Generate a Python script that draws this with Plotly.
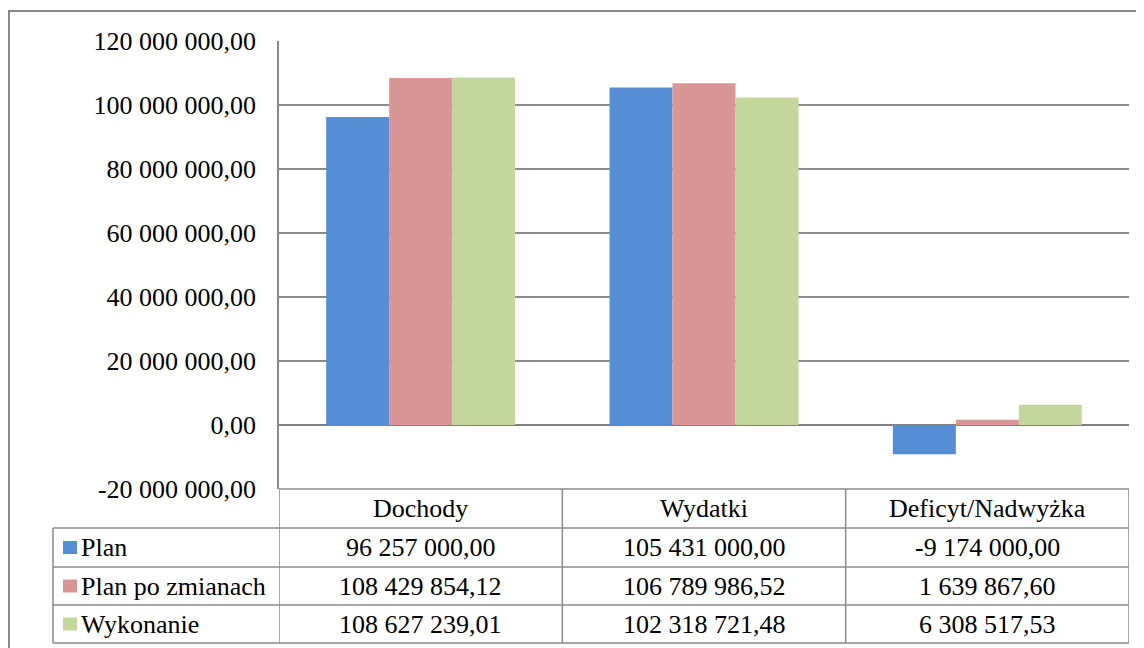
import plotly.graph_objects as go

categories = ["Dochody", "Wydatki", "Deficyt/Nadwyżka"]
series_names = ["Plan", "Plan po zmianach", "Wykonanie"]
plan = [96257000.00, 105431000.00, -9174000.00]
plan_po_zmianach = [108429854.12, 106789986.52, 1639867.60]
wykonanie = [108627239.01, 102318721.48, 6308517.53]
series_values = [plan, plan_po_zmianach, wykonanie]
colors = ["#558ED5", "#D99694", "#C3D69B"]
tick_values = [-20000000, 0, 20000000, 40000000, 60000000, 80000000, 100000000, 120000000]


def fmt(v):
    s = f"{abs(v):,.2f}".replace(",", " ").replace(".", ",")
    return ("-" if v < 0 else "") + s


OFF = 8  # default page body margin
W, H = 1144 - OFF, 648 - OFF
PL, PR, PT, PB = 279, 1129, 41, 489
L, T = PL - OFF, PT - OFF
R = W - (PR - OFF)
B = H - (PB - OFF)
PW = W - L - R
PH = H - T - B
FONT = "'Liberation Serif', 'Times New Roman', Times, serif"
FS = 26
GRID = "#8A8A8A"


def px_x(px):
    return (px - PL) / PW


def px_y(py):
    return (PB - py) / PH


fig = go.Figure()
for name, vals, col in zip(series_names, series_values, colors):
    fig.add_trace(go.Bar(x=categories, y=vals, name=name, marker=dict(color=col, line=dict(width=0))))

shapes = []
annotations = []

shapes.append(dict(type="rect", xref="paper", yref="paper",
                   x0=px_x(9), x1=px_x(1160), y0=px_y(11), y1=px_y(660),
                   line=dict(color="#888888", width=2), layer="below"))

row_lines = [489, 528, 567, 605, 643]
for i, ry in enumerate(row_lines):
    x0 = px_x(53) if i >= 1 else 0
    shapes.append(dict(type="line", xref="paper", yref="paper", x0=x0, x1=1,
                       y0=px_y(ry), y1=px_y(ry), line=dict(color=GRID, width=1.5)))
for b in [-0.5, 0.5, 1.5, 2.5]:
    shapes.append(dict(type="line", xref="x", yref="paper", x0=b, x1=b,
                       y0=px_y(489), y1=px_y(643), line=dict(color=GRID, width=1.5)))
shapes.append(dict(type="line", xref="paper", yref="paper", x0=px_x(53), x1=px_x(53),
                   y0=px_y(528), y1=px_y(643), line=dict(color=GRID, width=1.5)))

for c in categories:
    annotations.append(dict(x=c, xref="x", y=px_y(508.5), yref="paper", text=c,
                            showarrow=False, xanchor="center", yanchor="middle",
                            font=dict(family=FONT, size=FS, color="black")))

row_centers = [547.5, 586, 624]
for name, vals, col, cy in zip(series_names, series_values, colors, row_centers):
    shapes.append(dict(type="rect", xref="paper", yref="paper",
                       x0=px_x(63), x1=px_x(77), y0=px_y(cy - 6.5), y1=px_y(cy + 6.5),
                       fillcolor=col, line=dict(width=0)))
    annotations.append(dict(x=px_x(79), xref="paper", y=px_y(cy), yref="paper", text=name,
                            showarrow=False, xanchor="left", yanchor="middle",
                            font=dict(family=FONT, size=FS, color="black")))
    for c, v in zip(categories, vals):
        annotations.append(dict(x=c, xref="x", y=px_y(cy), yref="paper", text=fmt(v),
                                showarrow=False, xanchor="center", yanchor="middle",
                                font=dict(family=FONT, size=FS, color="black")))

fig.update_layout(
    width=W, height=H,
    margin=dict(l=L, r=R, t=T, b=B, autoexpand=False),
    paper_bgcolor="white", plot_bgcolor="white",
    barmode="group", bargap=0.333, bargroupgap=0,
    showlegend=False,
    shapes=shapes, annotations=annotations,
    font=dict(family=FONT, size=FS, color="black"),
)
fig.update_xaxes(range=[-0.5, 2.5], showticklabels=False, showgrid=False,
                 showline=False, zeroline=False, ticks="")
fig.update_yaxes(range=[-20000000, 120000000], tickvals=tick_values,
                 ticktext=[fmt(v) for v in tick_values],
                 showgrid=True, gridcolor=GRID, gridwidth=1.5,
                 zeroline=True, zerolinecolor="#808080", zerolinewidth=2,
                 showline=True, linecolor=GRID, linewidth=1.5,
                 ticks="", ticklabelstandoff=16,
                 tickfont=dict(family=FONT, size=FS, color="black"))

fig.write_html("out.html")
